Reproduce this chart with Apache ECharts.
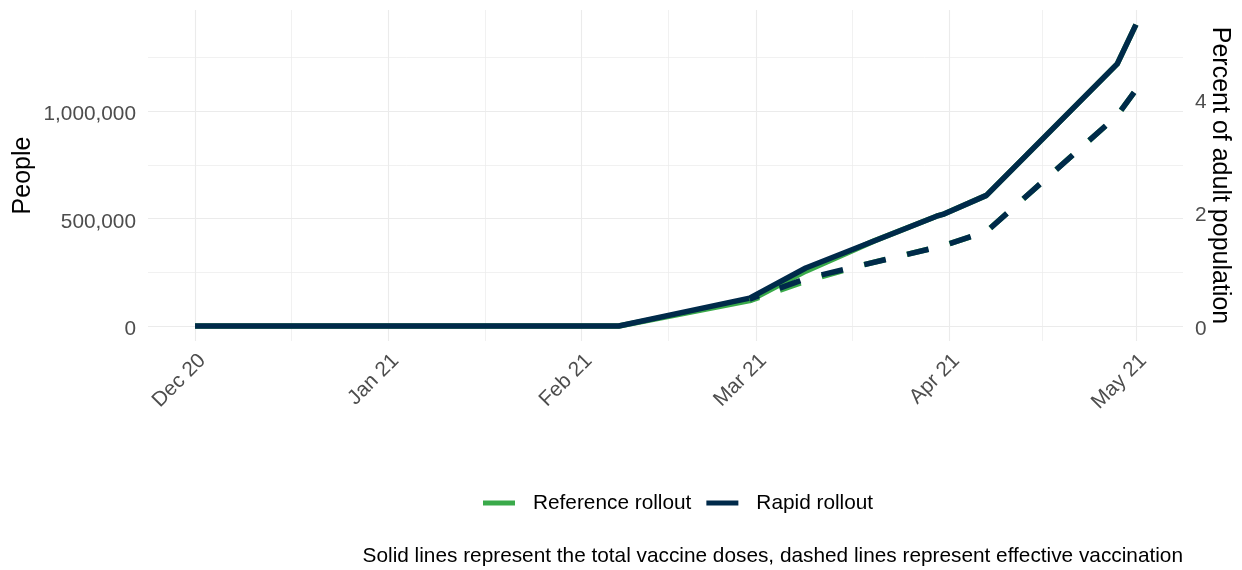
<!DOCTYPE html>
<html>
<head>
<meta charset="utf-8">
<script src="https://cdn.jsdelivr.net/npm/echarts@6/dist/echarts.min.js"></script>
<style>
html,body{margin:0;padding:0;background:#fff;}
#chart{width:1242px;height:570px;}
</style>
</head>
<body>
<div id="chart"></div>
<script>
// ---- data ----
var refDosesDates   = ['2020-12-01','2021-02-07','2021-02-28','2021-03-09','2021-03-20','2021-03-30','2021-03-31','2021-04-07','2021-04-28','2021-05-01'];
var refDosesValues  = [0, 0, 118000, 255000, 395900, 510700, 518700, 607500, 1219600, 1401900];
var refEffDates     = ['2021-02-28','2021-03-09','2021-03-18','2021-03-31','2021-04-07','2021-04-28','2021-05-01'];
var refEffValues    = [118000, 208000, 282600, 373000, 439000, 979000, 1098000];

var rapidDosesDates  = ['2020-12-01','2021-02-07','2021-02-28','2021-03-09','2021-03-30','2021-03-31','2021-04-07','2021-04-28','2021-05-01'];
var rapidDosesValues = [0, 0, 129400, 269600, 510700, 518700, 607500, 1219600, 1401900];
var rapidEffDates    = ['2021-02-28','2021-03-09','2021-03-31','2021-04-07','2021-04-28','2021-05-01'];
var rapidEffValues   = [125000, 220000, 373000, 439000, 979000, 1098000];

var monthTicks   = ['2020-12-01','2021-01-01','2021-02-01','2021-03-01','2021-04-01','2021-05-01'];
var peopleTicks  = [0, 500000, 1000000];
var peopleMinor  = [250000, 750000, 1250000];
var percentTicks = [0, 2, 4];
var adultPopulation = 26450000;

var seriesNames = ['Reference rollout', 'Rapid rollout'];
var captionText = 'Solid lines represent the total vaccine doses, dashed lines represent effective vaccination';

// ---- helpers ----
var MONTHS = ['Jan','Feb','Mar','Apr','May','Jun','Jul','Aug','Sep','Oct','Nov','Dec'];
function ts(s){ var p = s.split('-'); return Date.UTC(+p[0], +p[1]-1, +p[2]); }
function pairs(d, v){ return d.map(function(x,i){ return [ts(x), v[i]]; }); }
var xStart = ts(monthTicks[0]), xEnd = ts(monthTicks[monthTicks.length-1]);
var xPad = (xEnd - xStart) * 0.05;
var yDataMax = 1400000;
var yMin = -0.05 * yDataMax, yMax = 1.05 * yDataMax;
var pctScale = adultPopulation / 100;

var monthTs = monthTicks.map(ts);
var minorTs = [];
for (var i = 0; i < monthTs.length - 1; i++) minorTs.push((monthTs[i] + monthTs[i+1]) / 2);

var gridLines = [];
monthTs.forEach(function(v){ gridLines.push({xAxis: v, lineStyle:{width:1.1}}); });
minorTs.forEach(function(v){ gridLines.push({xAxis: v, lineStyle:{width:0.7}}); });
peopleTicks.forEach(function(v){ gridLines.push({yAxis: v, lineStyle:{width:1.1}}); });
peopleMinor.forEach(function(v){ gridLines.push({yAxis: v, lineStyle:{width:0.7}}); });

var GREEN = '#3aaa4a', NAVY = '#002a4a';
var FONT = '"Liberation Sans", Arial, Helvetica, sans-serif';
var SMALL = 20.8;

var chart = echarts.init(document.getElementById('chart'), null, {renderer:'canvas'});
chart.setOption({
  animation: false,
  backgroundColor: '#fff',
  textStyle: {fontFamily: FONT},
  grid: {left: 148, right: 59, top: 10, bottom: 229, outerBoundsMode: 'none', containLabel: false},
  title: {
    text: captionText, right: 59, top: 544, padding: 0,
    textStyle: {fontSize: SMALL, fontWeight: 'normal', color: '#000', fontFamily: FONT, lineHeight: 24}
  },
  legend: {
    data: seriesNames, left: 483, top: 491, padding: 0, itemGap: 15,
    icon: 'rect', itemWidth: 32, itemHeight: 5,
    textStyle: {fontSize: SMALL, color: '#000', fontFamily: FONT, lineHeight: 24, padding: [0,0,0,13]}
  },
  xAxis: {
    type: 'value', min: xStart - xPad, max: xEnd + xPad,
    axisLine: {show: false}, axisTick: {show: false}, splitLine: {show: false},
    axisLabel: {
      customValues: monthTs, rotate: 45, margin: 9, align: 'right', verticalAlign: 'top',
      fontSize: SMALL, color: '#4d4d4d', fontFamily: FONT,
      formatter: function(v){ var d = new Date(v); return MONTHS[d.getUTCMonth()] + ' ' + String(d.getUTCFullYear()).slice(2); }
    }
  },
  yAxis: [{
    type: 'value', min: yMin, max: yMax, position: 'left',
    name: 'People', nameLocation: 'middle', nameRotate: 90, nameGap: 112, nameMoveOverlap: false,
    nameTextStyle: {fontSize: 25, color: '#000', fontFamily: FONT},
    axisLine: {show: false}, axisTick: {show: false}, splitLine: {show: false},
    axisLabel: {
      customValues: peopleTicks, margin: 12, fontSize: SMALL, color: '#4d4d4d', fontFamily: FONT,
      verticalAlign: 'top', lineHeight: 7,
      formatter: function(v){ return Math.round(v).toString().replace(/\B(?=(\d{3})+(?!\d))/g, ','); }
    }
  }, {
    type: 'value', min: yMin / pctScale, max: yMax / pctScale, position: 'right',
    name: 'Percent of adult population', nameLocation: 'middle', nameRotate: -90, nameGap: 24, nameMoveOverlap: false,
    nameTextStyle: {fontSize: 25, color: '#000', fontFamily: FONT},
    axisLine: {show: false}, axisTick: {show: false}, splitLine: {show: false},
    axisLabel: {customValues: percentTicks, margin: 12, fontSize: SMALL, color: '#4d4d4d', fontFamily: FONT,
      verticalAlign: 'top', lineHeight: 7}
  }],
  series: [{
    name: '_grid', type: 'line', data: [], z: 1, silent: true,
    markLine: {
      z: 1, silent: true, symbol: ['none','none'], label: {show: false},
      lineStyle: {color: '#ebebeb', type: 'solid'}, emphasis: {disabled: true},
      data: gridLines
    }
  }, {
    name: seriesNames[0], type: 'line', data: pairs(refDosesDates, refDosesValues), z: 3,
    showSymbol: false, color: GREEN,
    lineStyle: {width: 5.5, color: GREEN, cap: 'butt', join: 'round'}
  }, {
    name: seriesNames[1], type: 'line', data: pairs(rapidDosesDates, rapidDosesValues), z: 4,
    showSymbol: false, color: NAVY,
    lineStyle: {width: 5.5, color: NAVY, cap: 'butt', join: 'round'}
  }, {
    name: seriesNames[0] + ' (effective)', type: 'line', data: pairs(refEffDates, refEffValues), z: 5,
    showSymbol: false, color: GREEN,
    lineStyle: {width: 5.5, color: GREEN, type: [22, 22], dashOffset: 12, cap: 'butt', join: 'round'}
  }, {
    name: seriesNames[1] + ' (effective)', type: 'line', data: pairs(rapidEffDates, rapidEffValues), z: 6,
    showSymbol: false, color: NAVY,
    lineStyle: {width: 5.5, color: NAVY, type: [22, 22], dashOffset: 12, cap: 'butt', join: 'round'}
  }]
});
</script>
</body>
</html>
